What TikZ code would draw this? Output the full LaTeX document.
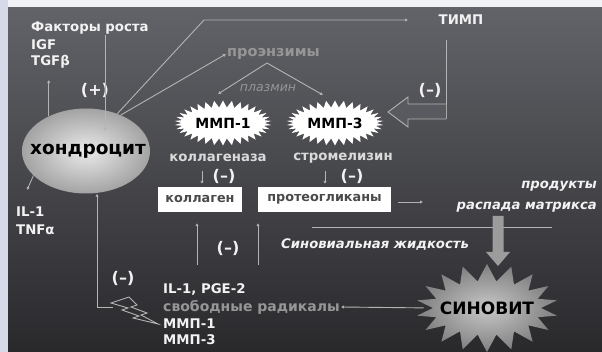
\documentclass[tikz,border=0pt]{standalone}
\usepackage{fontspec}
\setmainfont{DejaVu Sans}
\usetikzlibrary{shapes.symbols,shapes.geometric,arrows.meta}
\definecolor{bgtop}{HTML}{626368}
\definecolor{bgbot}{HTML}{29292C}
\definecolor{lnc}{HTML}{B4B4B4}
\definecolor{txtw}{HTML}{F2F2F2}
\definecolor{txtl}{HTML}{DADADA}
\definecolor{txtg}{HTML}{969696}
\definecolor{boxtxt}{HTML}{4A4A4A}
\definecolor{sidebar}{HTML}{D6D9E7}
\definecolor{topbar}{HTML}{F1F2F6}
\definecolor{fatarrow}{HTML}{9C9C9C}
\begin{document}
\begin{tikzpicture}[x=1pt,y=-1pt,
  lbl/.style={text=txtw,font=\bfseries\fontsize{13.3}{15}\selectfont,inner sep=1pt},
  lbll/.style={lbl,text=txtl},
  lblg/.style={lbl,text=txtg},
  minus/.style={text=txtw,font=\bfseries\fontsize{16}{18}\selectfont,inner sep=1pt},
  ital/.style={text=txtw,font=\bfseries\itshape\fontsize{13.2}{15}\selectfont,inner sep=1pt},
  conn/.style={draw=lnc,line width=0.9pt},
  arr/.style={conn,-{Latex[length=3pt,width=3.5pt]}},
  wbox/.style={fill=white,text=boxtxt,font=\bfseries\fontsize{12.8}{14}\selectfont,minimum height=25pt,inner sep=0pt},
  burst/.style={starburst,random starburst=0,inner sep=0pt},
  bursttxt/.style={font=\bfseries\fontsize{14}{16}\selectfont,text=black,inner sep=0pt}
]
\useasboundingbox (0,0) rectangle (602,352);
% background
\fill[sidebar] (0,0) rectangle (8,352);
\fill[topbar] (8,0) rectangle (602,8);
\shade[top color=bgtop,bottom color=bgbot] (8,8) rectangle (602,352);

% chondrocyte
\node[ellipse,shading=radial,inner color=white!92!black,outer color=white!64!black,
  minimum width=128pt,minimum height=85pt,inner sep=0pt] (chond) at (86,151) {};
\node[font=\bfseries\fontsize{18.5}{20}\selectfont,text=black,inner sep=0pt] (chondt) at ([xshift=2pt]chond.center) {хондроцит};

% growth factors
\node[lbl,anchor=west] (growth) at (30,28) {Факторы роста};
\node[lbl,anchor=west] (igf) at (30,45) {IGF};
\node[lbl,anchor=west] (tgf) at (30,62) {TGFβ};
\node[minus] (plus) at (95,90) {(+)};
\coordinate (gup) at (48,80);
\draw[arr] (chond.137) -- (chond.137 |- gup);
\coordinate (gin) at (105,131);
\draw[arr] (growth.south -| gin) -- (gin);

% TIMP
\node[lbl] (timp) at (461,20) {ТИМП};
\coordinate (k1) at (204,20);
\coordinate (tA) at (408,20);
\draw[arr] (chond.50) -- (k1) -- (tA);
\node[minus] (minus5) at (430,90) {(–)};
\coordinate (tv) at (446,40);
\draw[conn] (tv) -- (446,119);
\draw[draw=lnc,line width=0.9pt,fill=bgtop!85!bgbot,line join=miter]
  (446,104) -- (408,104) -- (408,97) -- (388,112) -- (408,127) -- (408,119) -- (446,119);

% proenzymes
\node[lblg,anchor=west,font=\bfseries\fontsize{14.5}{16}\selectfont] (proenz) at (226,54) {проэнзимы};
\draw[arr] (chond.46) -- (proenz.west);
\node[text=txtg,font=\itshape\fontsize{12.5}{14}\selectfont,inner sep=1pt] (plasmin) at (268,88) {плазмин};
\coordinate (apex) at (267,63);
\coordinate (e1) at (218,94);
\coordinate (e3) at (323,95);
\draw[arr] (apex) -- (e1);
\draw[arr] (apex) -- (e3);

% MMP bursts
\node[burst,fill=white,starburst points=34,starburst point height=7pt,
  minimum width=97pt,minimum height=45pt] (mmp1) at (223,123) {};
\node[bursttxt] (mmp1t) at (mmp1.center) {ММП-1};
\node[burst,fill=white,starburst points=34,starburst point height=7pt,
  minimum width=97pt,minimum height=45pt] (mmp3) at (335,123) {};
\node[bursttxt] (mmp3t) at (mmp3.center) {ММП-3};
\node[lbll] (kolaz) at (218,158) {коллагеназа};
\node[lbll] (strom) at (343,158) {стромелизин};
\node[minus] (minus1) at (224,176) {(–)};
\node[minus] (minus2) at (352,176) {(–)};

% boxes
\node[wbox,minimum width=84pt] (koll) at (200,199.5) {коллаген};
\node[wbox,minimum width=133pt] (prot) at (324.5,199.5) {протеогликаны};
\coordinate (d1) at (202,171);
\coordinate (d2) at (325,171);
\draw[arr,shorten >=3pt] (d1) -- (d1 |- koll.north);
\draw[arr,shorten >=3pt] (d2) -- (d2 |- prot.north);
\coordinate (pr) at (423,202);
\draw[arr] ([xshift=7pt]prot.east |- pr) -- (pr);

% products
\node[ital,anchor=east] (prod) at (598,186) {продукты};
\node[ital,anchor=east] (matr) at (598,207) {распада матрикса};
\coordinate (s1) at (312,227);
\coordinate (s2) at (552,227);
\draw[conn] (s1) -- (s2);
\node[ital,anchor=west] (synfl) at (280,245) {Синовиальная жидкость};

% up arrows
\coordinate (u1) at (197,265);
\coordinate (u2) at (258,265);
\draw[arr,shorten >=11pt] (u1) -- (u1 |- koll.south);
\draw[arr,shorten >=11pt] (u2) -- (u2 |- prot.south);
\node[minus] (minus3) at (228,248) {(–)};

% fat arrow
\fill[fatarrow] (492.5,216) -- (503.5,216) -- (503.5,252) -- (510,252) -- (498,266) -- (486,252) -- (492.5,252) -- cycle;

% synovitis
\node[burst,shading=radial,inner color=white!78!black,outer color=white!50!black,
  starburst points=18,starburst point height=17pt,
  minimum width=142pt,minimum height=88pt] (synov) at (487,308) {};
\node[bursttxt,font=\bfseries\fontsize{17}{19}\selectfont] (synovt) at (synov.center) {СИНОВИТ};

% mediators list
\node[lbl,anchor=west] (il1p) at (162,290) {IL-1, PGE-2};
\node[lblg,anchor=west,font=\bfseries\fontsize{14}{16}\selectfont] (rad) at (162,307) {свободные радикалы};
\node[lbl,anchor=west] (m1) at (162,324) {ММП-1};
\node[lbl,anchor=west] (m3) at (162,340) {ММП-3};
\draw[arr,shorten <=9pt] (synov.west) -- (rad.east);

% lightning bolt
\draw[draw=lnc,line width=0.9pt,line join=miter]
  (111,303) -- (129,297) -- (137,305) -- (131,307) -- (147,313) -- (141,315) -- (158,324)
  -- (133,318) -- (139,316) -- (122,310) -- (128,308) -- cycle;
\coordinate (bolt) at (113,307);
\coordinate (fb) at (97,307);
\node[minus] (minus4) at (123,278) {(–)};
\draw[arr] (bolt) -- (fb) -- (fb |- chond.south);

% IL-1 / TNF
\node[lbl,anchor=west] (il1) at (15,212) {IL-1};
\node[lbl,anchor=west] (tnf) at (15,230) {TNFα};
\coordinate (ild) at (27,190);
\draw[arr] (chond.205) -- (ild);
\end{tikzpicture}
\end{document}
